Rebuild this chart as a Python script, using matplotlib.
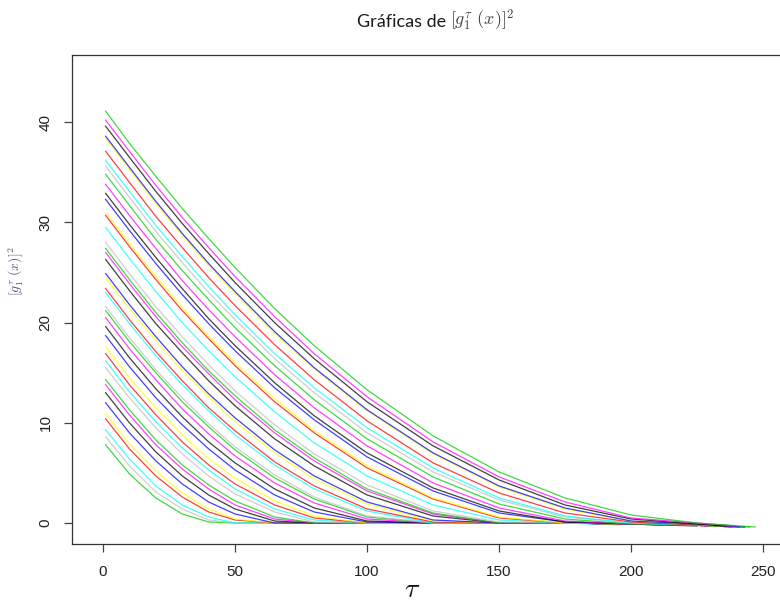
import matplotlib
matplotlib.use("Agg")
import matplotlib.pyplot as plt

# tau positions at which each curve is tabulated (first column = tau 1)
tau_grid = [1, 10, 20, 30, 40, 50, 65, 80, 100, 125, 150, 175, 200, 225]

# [g_1^tau(x)]^2 for each x, listed from the highest curve to the lowest
curve_values = [
    [41.1, 37.9, 34.6, 31.4, 28.4, 25.5, 21.4, 17.7, 13.3, 8.7, 5.1, 2.5, 0.8, 0.0],
    [40.2, 37.1, 33.7, 30.5, 27.5, 24.6, 20.6, 16.9, 12.6, 8.1, 4.6, 2.1, 0.5, 0.0],
    [39.6, 36.5, 33.1, 29.9, 26.9, 24.0, 20.0, 16.4, 12.1, 7.7, 4.3, 1.8, 0.4, -0.1],
    [38.6, 35.5, 32.1, 28.9, 25.9, 23.1, 19.1, 15.5, 11.3, 7.0, 3.7, 1.5, 0.2, -0.1],
    [38.4, 35.3, 31.9, 28.7, 25.7, 22.9, 18.9, 15.4, 11.2, 6.9, 3.6, 1.4, 0.2, -0.1],
    [37.1, 34.0, 30.6, 27.5, 24.5, 21.7, 17.8, 14.3, 10.2, 6.0, 3.0, 1.0, 0.1, -0.2],
    [36.2, 33.1, 29.7, 26.6, 23.6, 20.8, 16.9, 13.5, 9.5, 5.5, 2.5, 0.7, 0.0, -0.2],
    [35.6, 32.5, 29.1, 26.0, 23.0, 20.3, 16.4, 13.0, 9.0, 5.1, 2.3, 0.6, 0.0, -0.2],
    [34.8, 31.7, 28.3, 25.2, 22.3, 19.5, 15.7, 12.3, 8.4, 4.6, 1.9, 0.4, -0.1, -0.2],
    [33.8, 30.7, 27.4, 24.2, 21.3, 18.6, 14.8, 11.5, 7.7, 4.0, 1.5, 0.2, -0.1, -0.2],
    [32.9, 29.8, 26.5, 23.4, 20.4, 17.7, 14.0, 10.7, 7.0, 3.5, 1.2, 0.1, -0.1, -0.2],
    [32.3, 29.2, 25.9, 22.8, 19.9, 17.2, 13.5, 10.3, 6.6, 3.2, 1.0, 0.1, -0.1, -0.2],
    [31.0, 27.9, 24.6, 21.5, 18.6, 16.0, 12.4, 9.2, 5.7, 2.5, 0.6, 0.0, -0.1, -0.2],
    [30.7, 27.6, 24.3, 21.2, 18.4, 15.7, 12.1, 9.0, 5.5, 2.4, 0.5, 0.0, -0.1, -0.2],
    [29.5, 26.4, 23.1, 20.0, 17.2, 14.6, 11.1, 8.0, 4.7, 1.8, 0.3, 0.0, -0.1, -0.2],
    [28.0, 24.9, 21.6, 18.6, 15.8, 13.2, 9.8, 6.9, 3.8, 1.2, 0.1, 0.0, -0.1, -0.2],
    [27.4, 24.3, 21.0, 18.0, 15.2, 12.7, 9.3, 6.5, 3.4, 1.0, 0.0, 0.0, -0.1, -0.2],
    [27.0, 23.9, 20.6, 17.6, 14.9, 12.3, 9.0, 6.2, 3.2, 0.9, 0.0, 0.0, -0.1, -0.2],
    [26.3, 23.2, 19.9, 17.0, 14.2, 11.7, 8.4, 5.7, 2.8, 0.7, 0.0, 0.0, -0.1, -0.2],
    [24.9, 21.8, 18.6, 15.6, 12.9, 10.5, 7.3, 4.7, 2.1, 0.3, 0.0, 0.0, -0.1, -0.2],
    [24.5, 21.4, 18.2, 15.2, 12.6, 10.1, 7.0, 4.4, 1.9, 0.2, 0.0, 0.0, -0.1, -0.2],
    [23.4, 20.3, 17.1, 14.2, 11.5, 9.2, 6.1, 3.7, 1.4, 0.1, 0.0, 0.0, -0.1, -0.2],
    [23.0, 19.9, 16.7, 13.8, 11.2, 8.8, 5.8, 3.4, 1.2, 0.0, 0.0, 0.0, -0.1, -0.2],
    [21.6, 18.5, 15.3, 12.5, 9.9, 7.6, 4.8, 2.6, 0.7, 0.0, 0.0, 0.0, -0.1, -0.2],
    [21.2, 18.1, 15.0, 12.1, 9.6, 7.3, 4.5, 2.4, 0.6, 0.0, 0.0, 0.0, -0.1, -0.2],
    [20.5, 17.4, 14.3, 11.4, 8.9, 6.7, 4.0, 2.0, 0.4, 0.0, 0.0, 0.0, -0.1, -0.2],
    [19.6, 16.5, 13.4, 10.6, 8.1, 6.0, 3.4, 1.5, 0.2, 0.0, 0.0, 0.0, -0.1, -0.2],
    [18.7, 15.6, 12.5, 9.8, 7.4, 5.3, 2.8, 1.1, 0.1, 0.0, 0.0, 0.0, -0.1, -0.2],
    [17.6, 14.5, 11.5, 8.8, 6.4, 4.5, 2.2, 0.7, 0.0, 0.0, 0.0, 0.0, -0.1, -0.2],
    [16.9, 13.8, 10.8, 8.1, 5.8, 3.9, 1.8, 0.5, 0.0, 0.0, 0.0, 0.0, -0.1, -0.2],
    [16.2, 13.1, 10.1, 7.5, 5.3, 3.4, 1.4, 0.3, 0.0, 0.0, 0.0, 0.0, -0.1, -0.2],
    [15.5, 12.5, 9.5, 6.9, 4.7, 2.9, 1.1, 0.1, 0.0, 0.0, 0.0, 0.0, -0.1, -0.2],
    [14.3, 11.3, 8.3, 5.8, 3.8, 2.2, 0.6, 0.0, 0.0, 0.0, 0.0, 0.0, -0.1, -0.2],
    [13.8, 10.8, 7.8, 5.4, 3.4, 1.8, 0.4, 0.0, 0.0, 0.0, 0.0, 0.0, -0.1, -0.2],
    [13.0, 10.0, 7.1, 4.7, 2.8, 1.4, 0.2, 0.0, 0.0, 0.0, 0.0, 0.0, -0.1, -0.2],
    [12.0, 9.0, 6.2, 3.9, 2.1, 0.9, 0.0, 0.0, 0.0, 0.0, 0.0, 0.0, -0.1, -0.2],
    [10.9, 7.9, 5.2, 3.0, 1.4, 0.4, 0.0, 0.0, 0.0, 0.0, 0.0, 0.0, -0.1, -0.2],
    [10.4, 7.4, 4.7, 2.6, 1.1, 0.3, 0.0, 0.0, 0.0, 0.0, 0.0, 0.0, -0.1, -0.2],
    [9.3, 6.4, 3.7, 1.8, 0.6, 0.0, 0.0, 0.0, 0.0, 0.0, 0.0, 0.0, -0.1, -0.2],
    [8.6, 5.7, 3.1, 1.4, 0.3, 0.0, 0.0, 0.0, 0.0, 0.0, 0.0, 0.0, -0.1, -0.2],
    [7.8, 4.9, 2.5, 0.9, 0.1, 0.0, 0.0, 0.0, 0.0, 0.0, 0.0, 0.0, -0.1, -0.2],
]

# last tau of each curve and its value there
end_taus = [247, 240, 236, 243, 231, 238, 226, 244, 233, 229, 241, 221, 235, 228,
            242, 217, 237, 224, 232, 212, 239, 227, 234, 219, 243, 230, 225, 238,
            208, 233, 240, 222, 229, 236, 214, 239, 226, 231, 196, 235, 245]
end_values = [-0.4, -0.3, -0.3, -0.4, -0.3, -0.3, -0.2, -0.4, -0.3, -0.3, -0.4,
              -0.2, -0.3, -0.3, -0.4, -0.2, -0.3, -0.2, -0.3, -0.2, -0.4, -0.3,
              -0.3, -0.2, -0.4, -0.3, -0.3, -0.4, -0.2, -0.3, -0.4, -0.2, -0.3,
              -0.3, -0.2, -0.4, -0.3, -0.3, -0.2, -0.3, -0.4]

# base R palette, repeating from the top curve down
palette_cycle = ["#00CD00", "#FF00FF", "#000000", "#0000FF",
                 "#FFFF00", "#FF0000", "#00FFFF", "#BEBEBE"]

x_ticks = [0, 50, 100, 150, 200, 250]
y_ticks = [0, 10, 20, 30, 40]

W, H = 780, 602
fig = plt.figure(figsize=(W / 100, H / 100), dpi=100)
fig.patch.set_facecolor("white")
plt.rcParams["mathtext.fontset"] = "cm"

# plot region in pixels
L, R, T, B = 72, 781, 55, 544
ax = fig.add_axes([L / W, 1 - B / H, (R - L) / W, (B - T) / H])

px_per_tau = 2.64
px_per_unit = 10.02
x0_px, y0_px = 103, 523
ax.set_xlim((L - x0_px) / px_per_tau, (R - x0_px) / px_per_tau)
ax.set_ylim((y0_px - B) / px_per_unit, (y0_px - T) / px_per_unit)

n = len(curve_values)
for k in range(n - 1, -1, -1):
    vals = curve_values[k]
    xs = [t for t in tau_grid if t < end_taus[k]]
    ys = vals[:len(xs)]
    xs = xs + [end_taus[k]]
    ys = ys + [end_values[k]]
    ax.plot(xs, ys, color=palette_cycle[k % len(palette_cycle)],
            lw=0.9, alpha=0.75, solid_joinstyle="round")

tick_font = {"family": "Liberation Sans", "size": 11}
ax.set_xticks(x_ticks)
ax.set_xticklabels([str(v) for v in x_ticks], fontdict=tick_font)
ax.set_yticks(y_ticks)
ax.set_yticklabels([str(v) for v in y_ticks], fontdict=tick_font,
                   rotation=90, va="center")
ax.tick_params(axis="both", direction="out", length=6, width=0.9,
               color="#444444", labelcolor="#222222")
ax.tick_params(axis="x", pad=9)
ax.tick_params(axis="y", pad=8)
for sp in ax.spines.values():
    sp.set_color("#333333")
    sp.set_linewidth(0.9)

# title: plain words followed by the formula
fig.text(446 / W, 1 - 22 / H, "Gráficas de", ha="right", va="center",
         fontsize=13, family="Lato", color="#1a1a1a")
fig.text(450 / W, 1 - 20 / H, r"$[g_1^{\tau}\ (x)]^2$", ha="left",
         va="center", fontsize=13, color="#444444")

fig.text(412 / W, 1 - 589 / H, r"$\tau$", ha="center", va="center",
         fontsize=20, color="#111111")
fig.text(16 / W, 1 - 271 / H, r"$[g_1^{\tau}\ (x)]^2$", ha="center",
         va="center", rotation=90, fontsize=10, color="#4a5878")

fig.savefig("out.png", dpi=100, facecolor="white")
